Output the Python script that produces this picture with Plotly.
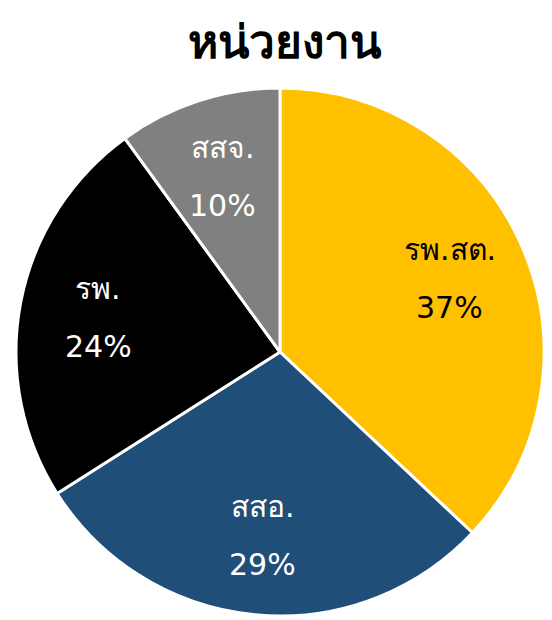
import math
import plotly.graph_objects as go

labels = ["รพ.สต.", "สสอ.", "รพ.", "สสจ."]
values = [37, 29, 24, 10]
colors = ["#FFC000", "#1F4E79", "#000000", "#808080"]
text_colors = ["#000000", "#FFFFFF", "#FFFFFF", "#FFFFFF"]

LABEL_FONT = "DejaVu Sans, Noto Sans, sans-serif"

fig = go.Figure(go.Pie(
    labels=labels,
    values=values,
    sort=False,
    direction="clockwise",
    rotation=0,
    marker=dict(colors=colors, line=dict(color="#FFFFFF", width=3)),
    textinfo="none",
    hoverinfo="label+percent",
    domain=dict(x=[0, 1], y=[0, 1]),
))

# data labels placed at each slice's mid-angle (derived from the values)
total = sum(values)
radial = 0.70
annotations = []
cum = 0
for lab, val, tc in zip(labels, values, text_colors):
    mid = (cum + val / 2) / total * 2 * math.pi
    cum += val
    x = 0.5 + 0.5 * radial * math.sin(mid)
    y = 0.5 + 0.5 * radial * math.cos(mid)
    pct = f"{round(val / total * 100)}%"
    for txt, shift in ((lab, 29), (pct, -29)):
        annotations.append(dict(
            text=txt, x=x, y=y, xref="paper", yref="paper",
            xanchor="center", yanchor="middle", yshift=shift,
            showarrow=False, font=dict(size=30, color=tc, family=LABEL_FONT),
        ))

fig.update_layout(
    width=552, height=620,
    margin=dict(l=8, r=16, t=80, b=12),
    paper_bgcolor="white",
    showlegend=False,
    annotations=annotations,
    title=dict(text="<b>หน่วยงาน</b>", x=0.5, xanchor="center", y=1 - 34 / 620, yanchor="middle",
               font=dict(size=46, color="#000000", family="Noto Sans, sans-serif")),
)

fig.write_html("out.html")
